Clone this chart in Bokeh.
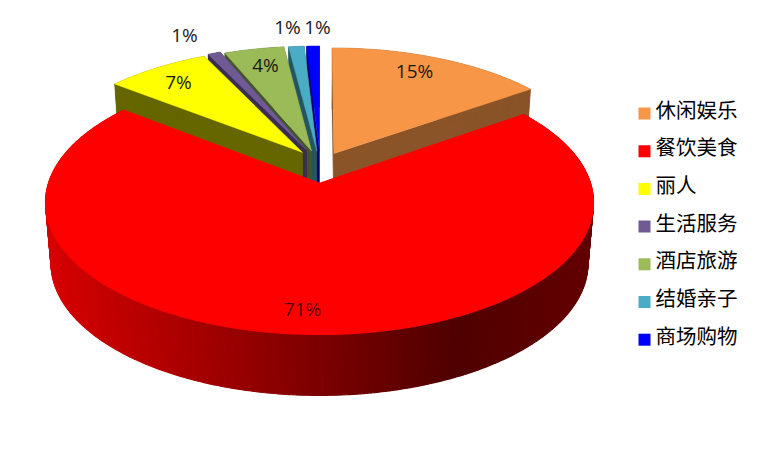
import math
from bokeh.plotting import figure
from bokeh.models import Range1d
from bokeh.core.properties import value
from bokeh.embed import file_html
from bokeh.resources import INLINE

categories = ["休闲娱乐", "餐饮美食", "丽人", "生活服务", "酒店旅游", "结婚亲子", "商场购物"]
shares = [15.2, 70.4, 7.3, 0.9, 4.2, 1.1, 0.9]
share_labels = ["15%", "71%", "7%", "1%", "4%", "1%", "1%"]

colors = ["#F79646", "#FF0000", "#FFFF00", "#705A94", "#9BBB59", "#4BACC6", "#0000FF"]
dark_colors = ["#8A5428", "#800000", "#666600", "#3A2D55", "#45552A", "#235563", "#000073"]
explode = [(0.055, 0.24), (0, 0), (-0.065, 0.25), (-0.05, 0.27), (-0.03, 0.26), (-0.01, 0.26), (0, 0.26)]
label_xy = [(414, 70), (302, 308), (178, 81), (184, 34), (265, 64), (287, 26), (317, 26)]
draw_order = [6, 5, 4, 3, 2, 0, 1]

CX, CY, A, B, K, DEPTH = 319, 183, 271, 129, 0.145, 61


def project(u, v, drop=0.0):
    w = 1 + K * v
    return CX + A * u / w * (1 - 0.02 * drop / DEPTH), CY - B * v / w + drop


def red_wall_color(x):
    t = (x - 45) / (593 - 45)
    if t < 0.75:
        r = 216 + (80 - 216) * t / 0.75
    else:
        r = 80 + (100 - 80) * (t - 0.75) / 0.25
    return "#%02x0000" % int(r)


p = figure(width=744, height=437, output_backend="svg", toolbar_location=None,
           x_range=Range1d(0, 744), y_range=Range1d(437, 0), min_border=0,
           outline_line_color=None, background_fill_color="white")
p.axis.visible = False
p.grid.visible = False

edges = [0.0]
for s in shares:
    edges.append(edges[-1] + s)

for i in draw_order:
    a0 = edges[i] * 2 * math.pi / sum(shares)
    a1 = edges[i + 1] * 2 * math.pi / sum(shares)
    n = max(4, int((a1 - a0) / 0.012))
    angles = [a0 + (a1 - a0) * j / n for j in range(n + 1)]
    ou, ov = explode[i]
    rim = [(ou + math.sin(a), ov + math.cos(a)) for a in angles]

    xs, ys, fills = [], [], []
    if i != 1:
        for edge in (rim[0], rim[-1]):
            corners = [project(ou, ov), project(*edge), project(*edge, DEPTH), project(ou, ov, DEPTH)]
            xs.append([c[0] for c in corners])
            ys.append([c[1] for c in corners])
            fills.append(dark_colors[i])
    for (u0, v0), (u1, v1) in zip(rim[:-1], rim[1:]):
        corners = [project(u0, v0), project(u1, v1), project(u1, v1, DEPTH), project(u0, v0, DEPTH)]
        xs.append([c[0] for c in corners])
        ys.append([c[1] for c in corners])
        fills.append(red_wall_color(corners[0][0]) if i == 1 else dark_colors[i])
    stroke = 1.2 if i == 1 else 0.2
    p.patches(xs, ys, fill_color=fills, line_color=fills, line_width=stroke)

    top = [project(ou, ov)] + [project(u, v) for u, v in rim]
    p.patch([c[0] for c in top], [c[1] for c in top], fill_color=colors[i], line_color=colors[i], line_width=stroke + 0.2)

for i, lab in enumerate(share_labels):
    p.text([label_xy[i][0]], [label_xy[i][1]], text=[lab], text_align="center", text_baseline="middle",
           text_font=value("Open Sans"), text_font_size="19px",
           text_color="#500000" if i == 1 else "#1a1a1a")

for i, cat in enumerate(categories):
    p.scatter([644], [113 + i * 37.7], marker="square", size=12, fill_color=colors[i], line_color=None)
    p.text([655], [108 + i * 37.7], text=[cat], text_align="left", text_baseline="middle",
           text_font=value("Noto Sans CJK SC"), text_font_size="20.5px", text_color="black")

open("out.html", "w").write(file_html(p, INLINE))
